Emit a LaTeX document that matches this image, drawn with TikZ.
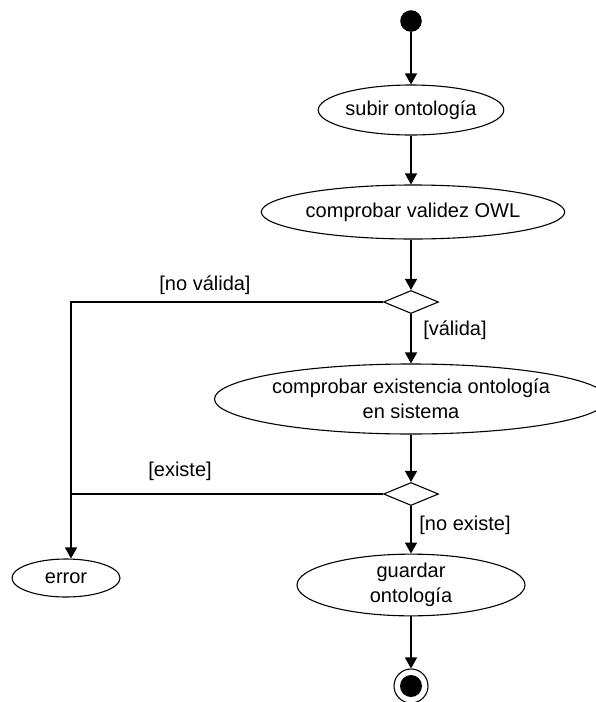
\documentclass[tikz,border=0pt]{standalone}
\usepackage{fontspec}
\setmainfont{Liberation Sans}
\usetikzlibrary{shapes.geometric,arrows.meta}
\begin{document}
\begin{tikzpicture}[x=1pt,y=-1pt,
  every node/.style={font=\fontsize{20}{25}\selectfont},
  activity/.style={ellipse, draw, line width=1.1pt, inner sep=0pt, align=center},
  decision/.style={diamond, draw, line width=1.1pt, minimum width=55pt, minimum height=23pt, inner sep=0pt},
  flow/.style={line width=1.4pt, -{Triangle[length=11pt,width=12pt]}},
  wire/.style={line width=1.4pt},
  guard/.style={inner sep=1pt}]
\useasboundingbox (0,0) rectangle (596,702);

% initial and final states
\node[circle, fill, inner sep=0pt, minimum size=21.6pt] (start) at (411,21) {};
\node[circle, draw, line width=1.1pt, inner sep=0pt, minimum size=34pt] (end) at (411,686) {};
\node[circle, fill, inner sep=0pt, minimum size=22pt] (endcore) at (end) {};

% activities
\node[activity, minimum width=160pt, minimum height=50pt] (subir) at (411,110) {subir ontología};
\node[activity, minimum width=240pt, minimum height=54pt] (owl) at (413,212) {comprobar validez OWL};
\node[activity, minimum width=356pt, minimum height=70pt] (exist) at (411,399) {comprobar existencia ontología\\en sistema};
\node[activity, minimum width=228pt, minimum height=54pt] (guardar) at (411,585) {guardar\\ontología};
\node[activity, minimum width=108pt, minimum height=38pt] (error) at (66,578) {error};

% decisions
\node[decision] (d1) at (411,302) {};
\node[decision] (d2) at (411,494) {};

% guards
\node[guard] (nv) at (205,285) {[no válida]};
\node[guard] (v) at (455,330) {[válida]};
\node[guard] (ex) at (180,471) {[existe]};
\node[guard] (ne) at (465,525) {[no existe]};

% main flow
\draw[flow] (start) -- (subir);
\draw[flow] (subir) -- (subir |- owl.north);
\draw[flow] (subir |- owl.south) -- (d1);
\draw[flow] (d1) -- (exist);
\draw[flow] (exist) -- (d2);
\draw[flow] (d2) -- (guardar);
\draw[flow] (guardar) -- (end);

% failure branches
\coordinate (elbow) at (71,302);
\draw[flow] (d1.west) -- (elbow) -- (elbow |- error.north);
\draw[wire] (d2.west) -- (elbow |- d2.west);
\end{tikzpicture}
\end{document}
